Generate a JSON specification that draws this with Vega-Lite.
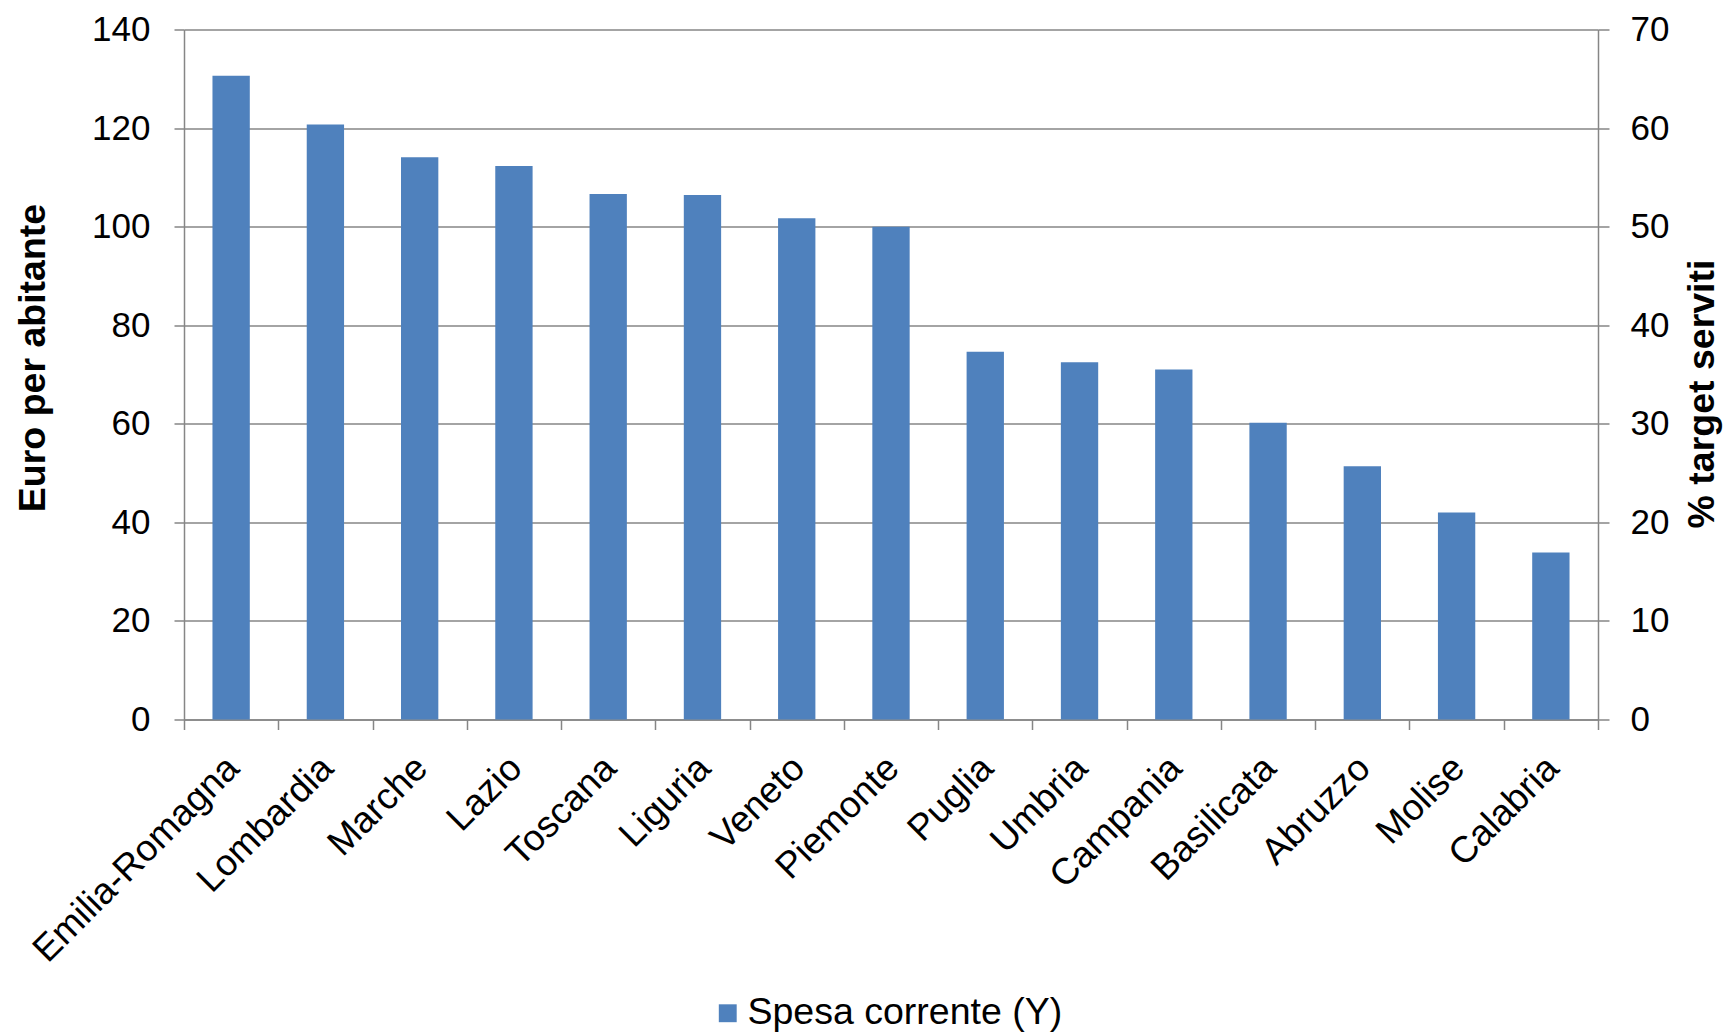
{
  "$schema": "https://vega.github.io/schema/vega-lite/v6.json",
  "width": 1414,
  "height": 690,
  "autosize": "none",
  "padding": {"left": 184, "top": 29.5, "right": 129, "bottom": 315.5},
  "background": "white",
  "config": {
    "font": "Liberation Sans",
    "view": {"stroke": null},
    "axis": {"labelFont": "Liberation Sans", "titleFont": "Liberation Sans", "labelColor": "#000000", "titleColor": "#000000"}
  },
  "data": {
    "values": [
      {"regione": "Emilia-Romagna", "spesa": 130.6, "serie": "Spesa corrente (Y)"},
      {"regione": "Lombardia", "spesa": 120.7, "serie": "Spesa corrente (Y)"},
      {"regione": "Marche", "spesa": 114.1, "serie": "Spesa corrente (Y)"},
      {"regione": "Lazio", "spesa": 112.3, "serie": "Spesa corrente (Y)"},
      {"regione": "Toscana", "spesa": 106.6, "serie": "Spesa corrente (Y)"},
      {"regione": "Liguria", "spesa": 106.4, "serie": "Spesa corrente (Y)"},
      {"regione": "Veneto", "spesa": 101.7, "serie": "Spesa corrente (Y)"},
      {"regione": "Piemonte", "spesa": 100.0, "serie": "Spesa corrente (Y)"},
      {"regione": "Puglia", "spesa": 74.6, "serie": "Spesa corrente (Y)"},
      {"regione": "Umbria", "spesa": 72.5, "serie": "Spesa corrente (Y)"},
      {"regione": "Campania", "spesa": 71.0, "serie": "Spesa corrente (Y)"},
      {"regione": "Basilicata", "spesa": 60.2, "serie": "Spesa corrente (Y)"},
      {"regione": "Abruzzo", "spesa": 51.4, "serie": "Spesa corrente (Y)"},
      {"regione": "Molise", "spesa": 42.0, "serie": "Spesa corrente (Y)"},
      {"regione": "Calabria", "spesa": 33.9, "serie": "Spesa corrente (Y)"}
    ]
  },
  "encoding": {
    "x": {
      "field": "regione",
      "type": "nominal",
      "sort": null,
      "scale": {"paddingInner": 0, "paddingOuter": 0},
      "axis": {
        "title": null,
        "labelAngle": -45,
        "labelAlign": "right",
        "labelBaseline": "top",
        "labelFontSize": 37,
        "labelPadding": 20,
        "labelOffset": -11,
        "labelLimit": 0,
        "tickBand": "extent",
        "tickSize": 10,
        "tickColor": "#868686",
        "tickWidth": 1.5,
        "domainColor": "#868686",
        "domainWidth": 1.5,
        "grid": false,
        "labelOverlap": false
      }
    }
  },
  "layer": [
    {
      "mark": {"type": "bar", "color": "#4F81BD", "width": {"band": 0.396}},
      "encoding": {
        "y": {
          "field": "spesa",
          "type": "quantitative",
          "scale": {"domain": [0, 140], "nice": false},
          "axis": {
            "title": "Euro per abitante",
            "titleFontSize": 37.5,
            "titleFontWeight": "bold",
            "titleAngle": -90,
            "titleX": -151,
            "titleY": 328,
            "titleAlign": "center",
            "titleBaseline": "middle",
            "values": [0, 20, 40, 60, 80, 100, 120, 140],
            "labelFontSize": 35,
            "labelPadding": 24,
            "tickSize": 10,
            "tickColor": "#868686",
            "tickWidth": 1.5,
            "domainColor": "#868686",
            "domainWidth": 1.5,
            "grid": true,
            "gridColor": "#868686",
            "gridWidth": 1.5
          }
        },
        "color": {
          "field": "serie",
          "type": "nominal",
          "scale": {"range": ["#4F81BD"]},
          "legend": {
            "title": null,
            "orient": "none",
            "direction": "horizontal",
            "legendX": 525,
            "legendY": 965,
            "symbolType": "square",
            "symbolSize": 320,
            "symbolStrokeWidth": 0,
            "labelFontSize": 37.5,
            "labelFont": "Liberation Sans",
            "labelColor": "#000000",
            "labelOffset": 1,
            "labelLimit": 0
          }
        }
      }
    },
    {
      "mark": {"type": "rule", "opacity": 0},
      "encoding": {
        "y": {
          "datum": 0,
          "type": "quantitative",
          "scale": {"domain": [0, 70], "nice": false},
          "axis": {
            "orient": "right",
            "title": "% target serviti",
            "titleFontSize": 37.5,
            "titleFontWeight": "bold",
            "titleAngle": -90,
            "titleX": 104,
            "titleY": 364,
            "titleAlign": "center",
            "titleBaseline": "middle",
            "values": [0, 10, 20, 30, 40, 50, 60, 70],
            "labelFontSize": 35,
            "labelPadding": 21,
            "tickSize": 11,
            "tickColor": "#868686",
            "tickWidth": 1.5,
            "domainColor": "#868686",
            "domainWidth": 1.5,
            "grid": false
          }
        }
      }
    }
  ],
  "resolve": {"scale": {"y": "independent"}}
}
